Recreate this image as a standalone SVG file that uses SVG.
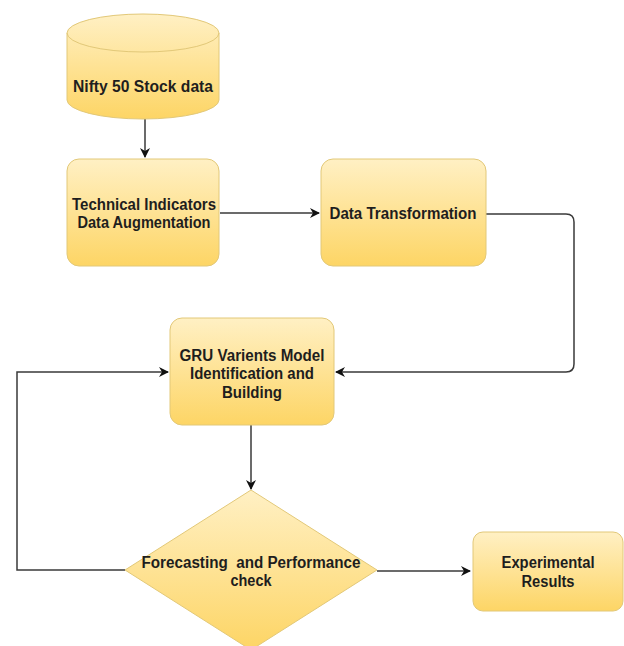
<svg xmlns="http://www.w3.org/2000/svg" width="624" height="646" viewBox="0 0 624 646">
<defs>
<linearGradient id="g" x1="0" y1="0" x2="0" y2="1">
<stop offset="0" stop-color="#fff0c4"/>
<stop offset="1" stop-color="#fdd565"/>
</linearGradient>
<marker id="arr" viewBox="0 0 10 10" refX="9" refY="5" markerWidth="10" markerHeight="10" markerUnits="userSpaceOnUse" orient="auto">
<path d="M0,0 L10,5 L0,10 L3,5 Z" fill="#111"/>
</marker>
<style>
.n{fill:url(#g);stroke:#e2c878;stroke-width:1}
.t{font-family:"Liberation Sans",Arial,sans-serif;font-weight:bold;font-size:16px;fill:#1e1e1e;text-anchor:middle}
.c{fill:none;stroke:#3a3a3a;stroke-width:1.5;marker-end:url(#arr)}
</style>
</defs>
<rect width="624" height="646" fill="#fff"/>
<g id="connectors">
<path class="c" d="M145,119 L145,157"/>
<path class="c" d="M220,213 L319,213"/>
<path class="c" d="M486,214 L566,214 Q574,214 574,222 L574,364 Q574,372 566,372 L336,372"/>
<path class="c" d="M251,425 L251,489"/>
<path class="c" d="M377,571 L470,571"/>
<path class="c" d="M125,570 L17,570 L17,372 L168,372"/>
</g>
<g id="stock-data">
<path class="n" d="M67,33 A76,19 0 0 1 219,33 L219,100 A76,19 0 0 1 67,100 Z"/>
<path d="M67,33 A76,19 0 0 0 219,33" fill="none" stroke="#e2c878"/>
<text class="t" x="143" y="92" textLength="140" lengthAdjust="spacingAndGlyphs">Nifty 50 Stock data</text>
</g>
<g id="technical-indicators">
<rect class="n" x="67" y="159" width="152" height="107" rx="12"/>
<text class="t" x="144" y="210" textLength="144" lengthAdjust="spacingAndGlyphs">Technical Indicators</text>
<text class="t" x="144" y="228" textLength="133" lengthAdjust="spacingAndGlyphs">Data Augmentation</text>
</g>
<g id="data-transformation">
<rect class="n" x="321" y="159" width="165" height="107" rx="12"/>
<text class="t" x="403" y="219" textLength="147" lengthAdjust="spacingAndGlyphs">Data Transformation</text>
</g>
<g id="gru-model">
<rect class="n" x="170" y="318" width="164" height="107" rx="12"/>
<text class="t" x="252" y="361" textLength="145" lengthAdjust="spacingAndGlyphs">GRU Varients Model</text>
<text class="t" x="252" y="379" textLength="124" lengthAdjust="spacingAndGlyphs">Identification and</text>
<text class="t" x="252" y="398" textLength="60" lengthAdjust="spacingAndGlyphs">Building</text>
</g>
<g id="forecasting">
<path class="n" d="M251,490 L377,570 L251,650 L125,570 Z" stroke="none"/>
<text class="t" x="251" y="568" textLength="219" lengthAdjust="spacingAndGlyphs" xml:space="preserve">Forecasting  and Performance</text>
<text class="t" x="251" y="586" textLength="41" lengthAdjust="spacingAndGlyphs">check</text>
</g>
<g id="experimental-results">
<rect class="n" x="473" y="532" width="150" height="79" rx="10"/>
<text class="t" x="548" y="568" textLength="93" lengthAdjust="spacingAndGlyphs">Experimental</text>
<text class="t" x="548" y="587" textLength="53" lengthAdjust="spacingAndGlyphs">Results</text>
</g>
</svg>
